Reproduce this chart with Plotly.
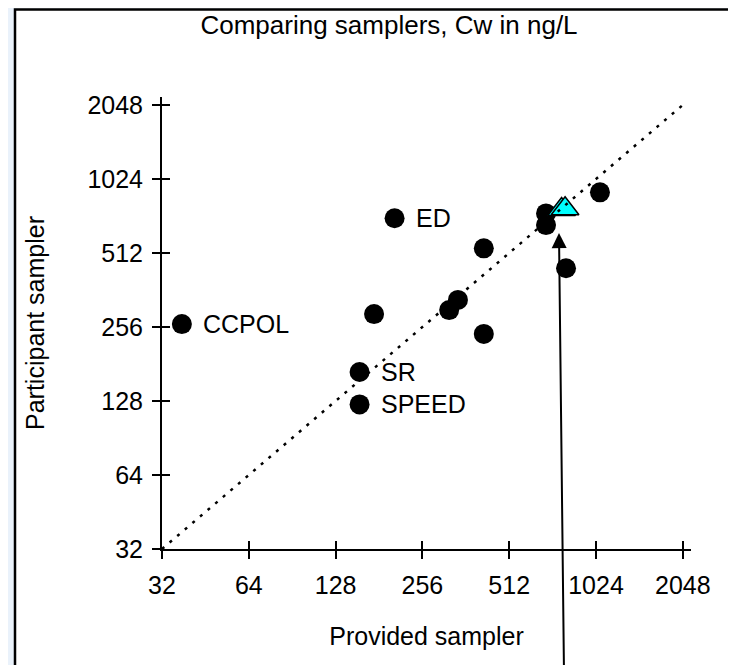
import numpy as np
import plotly.graph_objects as go

# Cw in ng/L
provided = [37.5, 205, 174, 155, 155, 317, 340, 418, 418, 687, 687, 1057, 806]
participant = [263, 709, 289, 168, 124, 300, 330, 535, 240, 742, 665, 904, 444]
labels = ["CCPOL", "ED", "", "SR", "SPEED", "", "", "", "", "", "", "", ""]

ref_x = [778, 800]
ref_y = [770, 775]

arrow_at = (762, 617)

ticks = [32, 64, 128, 256, 512, 1024, 2048]
tick_text = [str(t) for t in ticks]
one_to_one = [32, 2048]

# the page body adds an 8px margin, so the layout is laid out 8px up/left
W, H = 736, 665
ML, MR, MT, MB = 154, 53, 89, 124
pw, ph = W - ML - MR, H - MT - MB

FONT = "Liberation Sans, Arial, sans-serif"

# axes: 86.8 px per doubling along x, 74 px along y
lo = np.log10(32)
xr = [lo, lo + pw / 86.8 * np.log10(2)]
yr = [lo, lo + ph / 74.0 * np.log10(2)]

fig = go.Figure()

fig.add_trace(go.Scatter(
    x=one_to_one, y=one_to_one, mode="lines",
    line=dict(color="black", width=2.5, dash="3px,7px"),
    xaxis="x2", yaxis="y2", hoverinfo="skip", showlegend=False))

fig.add_trace(go.Scatter(
    x=provided, y=participant, mode="markers",
    marker=dict(size=20, color="black"),
    cliponaxis=False, showlegend=False))

fig.add_trace(go.Scatter(
    x=ref_x, y=ref_y, mode="markers",
    marker=dict(size=24, color="#00ffff", symbol="triangle-up",
                line=dict(color="black", width=1.5)),
    cliponaxis=False, showlegend=False))

for px_, py_, lab in zip(provided, participant, labels):
    if lab:
        fig.add_annotation(x=np.log10(px_), y=np.log10(py_), text=lab,
                           showarrow=False, xanchor="left", xshift=19,
                           font=dict(size=25, color="black", family=FONT))

fig.add_annotation(x=np.log10(arrow_at[0]), y=np.log10(arrow_at[1]), text="",
                   showarrow=True, arrowhead=2, arrowsize=1.5, arrowwidth=2,
                   arrowcolor="black", ax=5, ay=470)

# page frame
def fx(p):
    return (p - ML) / pw

def fy(p):
    return (H - MB - p) / ph

fig.add_shape(type="rect", xref="paper", yref="paper", layer="below",
              x0=fx(7), x1=fx(W + 10), y0=fy(1.5), y1=fy(H + 10),
              fillcolor="white", line=dict(color="black", width=2.5))

axis_common = dict(type="log", tickvals=ticks, ticktext=tick_text,
                   showgrid=False, zeroline=False, automargin=False,
                   ticklen=8, tickwidth=1.5, tickcolor="black")

fig.update_layout(
    width=W, height=H,
    margin=dict(l=ML, r=MR, t=MT, b=MB),
    paper_bgcolor="#eaf2fb", plot_bgcolor="rgba(0,0,0,0)",
    font=dict(family=FONT, size=25, color="black"),
    title=dict(text="Comparing samplers, Cw in ng/L", x=381 / W,
               xref="container", y=1 - 17 / H, yanchor="middle",
               font=dict(size=26)),
    xaxis=dict(axis_common, range=xr, ticks="outside", showline=True,
               linecolor="black", linewidth=2, tickfont=dict(size=25),
               ticklabelstandoff=5,
               title=dict(text="Provided sampler", standoff=29,
                          font=dict(size=25))),
    yaxis=dict(axis_common, range=yr, ticks="outside", showline=True,
               linecolor="black", linewidth=2, tickfont=dict(size=25),
               ticklabelstandoff=4,
               title=dict(text="Participant sampler", standoff=36,
                          font=dict(size=25))),
    xaxis2=dict(axis_common, range=xr, ticks="inside", overlaying="x",
                anchor="y2", side="bottom", showticklabels=False,
                showline=False),
    yaxis2=dict(axis_common, range=yr, ticks="inside", overlaying="y",
                anchor="x2", side="left", showticklabels=False,
                showline=False),
)

fig.write_html("out.html")
